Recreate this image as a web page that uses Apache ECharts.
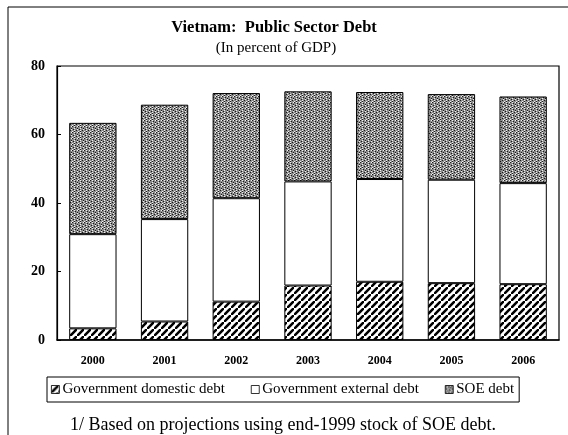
<!DOCTYPE html>
<html>
<head>
<meta charset="utf-8">
<script src="https://cdn.jsdelivr.net/npm/echarts@6/dist/echarts.min.js"></script>
<style>
  html, body { margin: 0; padding: 0; background: #fff; }
  #main { width: 568px; height: 435px; }
</style>
</head>
<body>
<div id="main"></div>
<script>
// data
var years = ['2000', '2001', '2002', '2003', '2004', '2005', '2006'];
var domesticDebt = [3.4, 5.4, 11.2, 15.9, 17.0, 16.6, 16.3];
var externalDebt = [27.5, 29.9, 30.2, 30.4, 30.0, 30.2, 29.5];
var soeDebt = [32.5, 33.4, 30.7, 26.3, 25.4, 25.0, 25.3];
var yTicks = [0, 20, 40, 60, 80];

var serif = '"Liberation Serif", "DejaVu Serif", serif';

// diagonal stripes for domestic debt
function hatchPattern() {
    var s = 7;
    var c = document.createElement('canvas');
    c.width = s; c.height = s;
    var ctx = c.getContext('2d');
    ctx.fillStyle = '#fff';
    ctx.fillRect(0, 0, s, s);
    ctx.strokeStyle = '#000';
    ctx.lineWidth = 2.6;
    ctx.beginPath();
    ctx.moveTo(-1, s + 1); ctx.lineTo(s + 1, -1);
    ctx.moveTo(-s - 1, 1); ctx.lineTo(1, -s - 1);
    ctx.moveTo(s - 1, 2 * s + 1); ctx.lineTo(2 * s + 1, s - 1);
    ctx.stroke();
    return c;
}

// grey stipple for SOE debt
function stipplePattern() {
    var c = document.createElement('canvas');
    c.width = 6; c.height = 6;
    var ctx = c.getContext('2d');
    ctx.fillStyle = '#8c8c8c';
    ctx.fillRect(0, 0, 6, 6);
    var dark = [[0, 0], [3, 1], [1, 3], [4, 4], [5, 2], [2, 5]];
    var light = [[2, 0], [2, 2], [5, 0], [5, 3], [2, 4], [0, 5]];
    ctx.fillStyle = '#1a1a1a';
    dark.forEach(function(p) { ctx.fillRect(p[0], p[1], 1, 1); });
    ctx.fillStyle = '#f0f0f0';
    light.forEach(function(p) { ctx.fillRect(p[0], p[1], 1, 1); });
    return c;
}

var hatchFill = { image: hatchPattern(), repeat: 'repeat' };
var stippleFill = { image: stipplePattern(), repeat: 'repeat' };

function barSeries(name, data, fill) {
    return {
        name: name,
        type: 'bar',
        stack: 'debt',
        data: data,
        barWidth: '66%',
        itemStyle: { color: fill, borderColor: '#000', borderWidth: 1 }
    };
}

var chart = echarts.init(document.getElementById('main'));
chart.setOption({
    animation: false,
    backgroundColor: '#fff',
    grid: { left: 57, right: 9, top: 66, bottom: 95, show: true, borderColor: '#000', borderWidth: 1.2 },
    xAxis: {
        type: 'category',
        data: years,
        axisLine: { lineStyle: { color: '#000', width: 1.5 } },
        axisTick: { inside: true, length: 4, lineStyle: { color: '#000' } },
        axisLabel: { margin: 15, color: '#000', fontFamily: serif, fontWeight: 'bold', fontSize: 12 }
    },
    yAxis: {
        type: 'value',
        min: yTicks[0],
        max: yTicks[yTicks.length - 1],
        interval: 20,
        splitLine: { show: false },
        axisLine: { show: true, lineStyle: { color: '#000', width: 1.2 } },
        axisTick: { show: true, inside: true, length: 4, lineStyle: { color: '#000' } },
        axisLabel: { margin: 12, color: '#000', fontFamily: serif, fontWeight: 'bold', fontSize: 14 }
    },
    legend: {
        left: 47,
        top: 377,
        icon: 'rect',
        itemWidth: 8,
        itemHeight: 8,
        itemGap: 26,
        padding: [5, 5, 5, 4],
        borderColor: '#000',
        borderWidth: 1,
        itemStyle: { borderColor: '#000', borderWidth: 0.8 },
        textStyle: { color: '#000', fontFamily: serif, fontSize: 15, padding: [0, 0, 0, -2] },
        data: ['Government domestic debt', 'Government external debt', 'SOE debt']
    },
    series: [
        barSeries('Government domestic debt', domesticDebt, hatchFill),
        barSeries('Government external debt', externalDebt, '#fff'),
        barSeries('SOE debt', soeDebt, stippleFill)
    ],
    graphic: [
        { type: 'polyline', shape: { points: [[8, 435], [8, 7], [568, 7]] }, style: { stroke: '#000', lineWidth: 1, fill: null } },
        { type: 'text', x: 274, y: 28, style: { text: 'Vietnam:  Public Sector Debt', align: 'center', verticalAlign: 'middle', font: 'bold 16.5px ' + serif, fill: '#000' } },
        { type: 'text', x: 276, y: 48, style: { text: '(In percent of GDP)', align: 'center', verticalAlign: 'middle', font: '15px ' + serif, fill: '#000' } },
        { type: 'text', x: 283, y: 425, style: { text: '1/ Based on projections using end-1999 stock of SOE debt.', align: 'center', verticalAlign: 'middle', font: '18px ' + serif, fill: '#000' } }
    ]
});
</script>
</body>
</html>
